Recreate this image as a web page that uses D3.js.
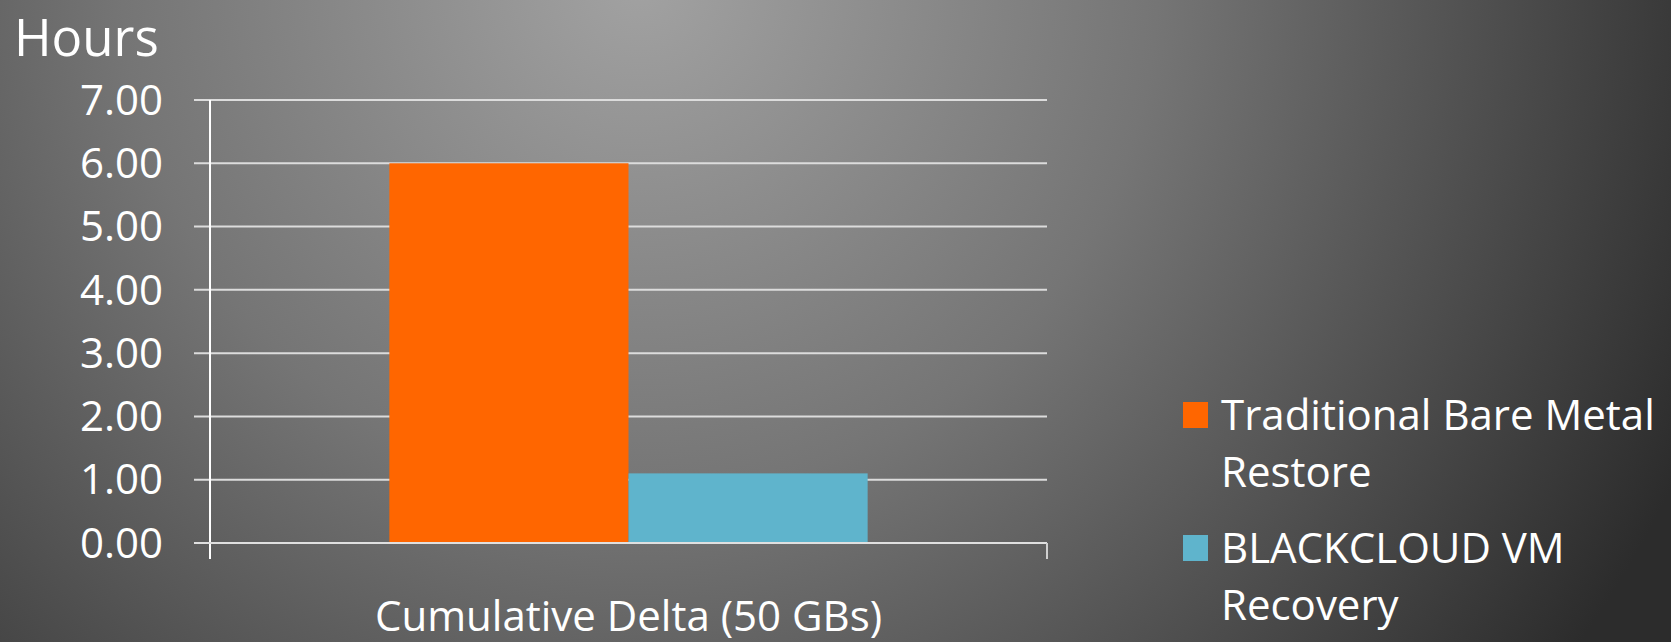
<!DOCTYPE html>
<html>
<head>
<meta charset="utf-8">
<script src="https://cdn.jsdelivr.net/npm/d3@7"></script>
<style>
  html, body { margin: 0; padding: 0; background: #333; }
  svg { display: block; }
  text { font-family: "Open Sans", sans-serif; fill: #fff; }
</style>
</head>
<body>
<svg id="chart" width="1671" height="642"></svg>
<script>
var categories = ["Cumulative Delta (50 GBs)"];
var seriesNames = ["Traditional Bare Metal Restore", "BLACKCLOUD VM Recovery"];
var seriesValues = [[6.0], [1.1]];
var legendLines = [["Traditional Bare Metal", "Restore"], ["BLACKCLOUD VM", "Recovery"]];
var yTicks = [0, 1, 2, 3, 4, 5, 6, 7];
var colors = ["#ff6600", "#5fb4cc"];

var W = 1671, H = 642;
var margin = { top: 100, left: 210, right: 624, bottom: 99 };

var svg = d3.select("#chart");

// background: light glow at top middle, dark corners
var defs = svg.append("defs");
var grad = defs.append("radialGradient")
  .attr("id", "bg")
  .attr("gradientUnits", "userSpaceOnUse")
  .attr("cx", 640).attr("cy", -20)
  .attr("r", 1150);
grad.append("stop").attr("offset", "0%").attr("stop-color", "#a2a2a2");
grad.append("stop").attr("offset", "45%").attr("stop-color", "#757575");
grad.append("stop").attr("offset", "100%").attr("stop-color", "#2c2c2c");
svg.append("rect").attr("width", W).attr("height", H).attr("fill", "url(#bg)");

var y = d3.scaleLinear().domain([0, 7]).range([H - margin.bottom, margin.top]);
var x0 = d3.scaleBand().domain(categories).range([margin.left, W - margin.right]);
var x1 = d3.scaleBand().domain(seriesNames).range([0, x0.bandwidth()])
  .paddingInner(0).paddingOuter(0.75);

// gridlines with outward tick
var grid = svg.append("g");
grid.selectAll("line").data(yTicks).enter().append("line")
  .attr("x1", margin.left - 16)
  .attr("x2", W - margin.right)
  .attr("y1", function(d) { return y(d); })
  .attr("y2", function(d) { return y(d); })
  .attr("stroke", "#dcdcdc")
  .attr("stroke-width", 2);

// y labels
svg.append("g").selectAll("text").data(yTicks).enter().append("text")
  .attr("x", 163)
  .attr("y", function(d) { return y(d); })
  .attr("dy", "0.35em")
  .attr("text-anchor", "end")
  .style("font-size", "42px")
  .text(d3.format(".2f"));

// bars
var groups = svg.append("g").selectAll("g").data(categories).enter().append("g")
  .attr("transform", function(d) { return "translate(" + x0(d) + ",0)"; });
groups.selectAll("rect")
  .data(function(d, ci) { return seriesNames.map(function(s, si) { return { s: s, v: seriesValues[si][ci], i: si }; }); })
  .enter().append("rect")
  .attr("x", function(d) { return x1(d.s); })
  .attr("width", x1.bandwidth())
  .attr("y", function(d) { return y(d.v); })
  .attr("height", function(d) { return y(0) - y(d.v); })
  .attr("fill", function(d) { return colors[d.i]; });

// axes lines
svg.append("line")
  .attr("x1", margin.left).attr("x2", margin.left)
  .attr("y1", y(7)).attr("y2", y(0) + 16)
  .attr("stroke", "#fff").attr("stroke-width", 2);
svg.append("line")
  .attr("x1", margin.left - 16).attr("x2", W - margin.right)
  .attr("y1", y(0)).attr("y2", y(0))
  .attr("stroke", "#e0e0e0").attr("stroke-width", 2);
svg.append("line")
  .attr("x1", W - margin.right).attr("x2", W - margin.right)
  .attr("y1", y(0)).attr("y2", y(0) + 16)
  .attr("stroke", "#d0d0d0").attr("stroke-width", 2);

// category label
svg.append("g").selectAll("text").data(categories).enter().append("text")
  .attr("x", function(d) { return x0(d) + x0.bandwidth() / 2; })
  .attr("y", 631)
  .attr("text-anchor", "middle")
  .style("font-size", "42px")
  .text(function(d) { return d; });

// axis title
svg.append("text")
  .attr("x", 14).attr("y", 56)
  .style("font-size", "51px")
  .text("Hours");

// legend
var legend = svg.append("g").selectAll("g").data(seriesNames).enter().append("g")
  .attr("transform", function(d, i) { return "translate(1183," + (402 + i * 133) + ")"; });
legend.append("rect")
  .attr("width", 25).attr("height", 26)
  .attr("fill", function(d, i) { return colors[i]; });
legend.append("text")
  .attr("x", 38).attr("y", 28)
  .style("font-size", "42px")
  .selectAll("tspan")
  .data(function(d, i) { return legendLines[i]; })
  .enter().append("tspan")
  .attr("x", 38)
  .attr("dy", function(d, j) { return j === 0 ? 0 : 57; })
  .text(function(d) { return d; });
</script>
</body>
</html>
